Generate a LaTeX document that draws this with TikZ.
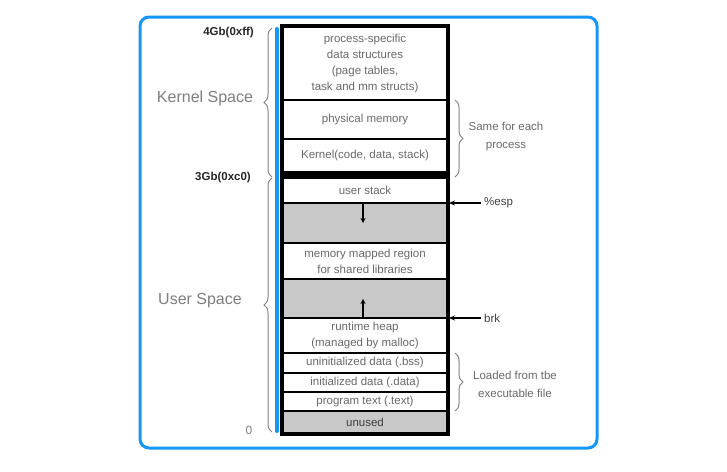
\documentclass[tikz,border=0pt]{standalone}
\usepackage{fontspec}
\setmainfont{Liberation Sans}
\usetikzlibrary{decorations.pathreplacing,arrows.meta}
\definecolor{frameblue}{RGB}{20,150,250}
\definecolor{rowtext}{RGB}{105,105,105}
\definecolor{spacetext}{RGB}{125,125,125}
\definecolor{bracegray}{RGB}{130,130,130}
\definecolor{fillgray}{RGB}{200,200,200}
\tikzset{
  rowbox/.style={draw=black, line width=2.2pt, minimum width=164pt, inner sep=0pt,
    text=rowtext, font=\fontsize{11.5}{16}\selectfont, align=center, fill=white},
  graybox/.style={rowbox, fill=fillgray},
  bandbox/.style={draw=black, fill=black, line width=0pt, minimum width=164pt, inner sep=0pt},
  addr/.style={font=\fontsize{11.5}{12}\selectfont\bfseries, text=black!85, anchor=east, inner sep=0pt},
  spacelbl/.style={font=\fontsize{16}{18}\selectfont, text=spacetext, inner sep=0pt},
  sidelbl/.style={font=\fontsize{11.5}{18}\selectfont, text=rowtext, align=center, inner sep=0pt},
  ptrlbl/.style={font=\fontsize{11.5}{13}\selectfont, text=black!75, anchor=west, inner sep=0pt},
  bracel/.style={decorate, decoration={brace, amplitude=8pt}, draw=bracegray, line width=1pt},
  ptr/.style={-{Stealth[length=6pt,width=5pt]}, line width=1.5pt, draw=black},
  growarrow/.style={-{Stealth[length=5pt,width=5pt]}, line width=1.3pt, draw=black}
}
\begin{document}
\begin{tikzpicture}[x=1pt,y=-1pt]
\useasboundingbox (0,0) rectangle (727,471);
% outer frame
\draw[frameblue, line width=3pt, rounded corners=9pt] (140,17) rectangle (597,448);

% rows
\node[rowbox, minimum height=73pt] (ps) at (365,63.5) {process-specific\\data structures\\(page tables,\\task and mm structs)};
\node[rowbox, minimum height=39pt] (pm) at (365,119.5) {physical memory};
\node[rowbox, minimum height=33pt] (kc) at (365,155.5) {Kernel(code, data, stack)};
\node[bandbox, minimum height=6pt] (band) at (365,175) {};
\node[rowbox, minimum height=25pt] (us) at (365,190.5) {user stack};
\node[graybox, minimum height=40pt] (g1) at (365,223) {};
\node[rowbox, minimum height=36pt] (mm) at (365,261) {memory mapped region\\for shared libraries};
\node[graybox, minimum height=39pt] (g2) at (365,298.5) {};
\node[rowbox, minimum height=35pt] (rh) at (365,335.5) {runtime heap\\(managed by malloc)};
\node[rowbox, minimum height=20pt] (ub) at (365,363) {uninitialized data (.bss)};
\node[rowbox, minimum height=19pt] (id) at (365,382.5) {initialized data (.data)};
\node[rowbox, minimum height=19pt] (pt) at (365,401.5) {program text (.text)};
\node[graybox, minimum height=22pt, text=black!75] (un) at (365,422) {unused};
% outer column border
\draw[line width=3pt] (ps.north west) rectangle (un.south east);

% blue bar
\draw[frameblue, line width=4pt, line cap=round] (276.5,29) -- (276.5,431);

% growth arrows
\coordinate (g1a) at (363,204);
\coordinate (g1b) at (363,223);
\draw[growarrow] (g1a) -- (g1b);
\coordinate (g2a) at (363,318);
\coordinate (g2b) at (363,299);
\draw[growarrow] (g2a) -- (g2b);

% pointers
\coordinate (espS) at (481,203);
\coordinate (espT) at (449,203);
\draw[ptr] (espS) -- (espT);
\node[ptrlbl] (esp) at (484,203) {\%esp};
\coordinate (brkS) at (481,318);
\coordinate (brkT) at (449,318);
\draw[ptr] (brkS) -- (brkT);
\node[ptrlbl] (brk) at (484,318) {brk};

% addresses
\node[addr] (a4) at (254,33) {4Gb(0xff)};
\node[addr] (a3) at (251,178) {3Gb(0xc0)};
\node[font=\fontsize{12}{14}\selectfont, text=spacetext, inner sep=0pt] (a0) at (249,430) {0};

% left braces
\coordinate (kb1) at (272,177);
\coordinate (kb2) at (272,28);
\draw[bracel] (kb1) -- (kb2);
\coordinate (ub1) at (272,432);
\coordinate (ub2) at (272,178);
\draw[bracel] (ub1) -- (ub2);
\node[spacelbl] (ks) at (205,98) {Kernel Space};
\node[spacelbl] (uspace) at (200,301) {User Space};

% right braces
\coordinate (rb1) at (455,100);
\coordinate (rb2) at (455,177);
\draw[bracel] (rb1) -- (rb2);
\node[sidelbl] (same) at (506,137) {Same for each\\process};
\coordinate (lb1) at (455,353);
\coordinate (lb2) at (455,411);
\draw[bracel] (lb1) -- (lb2);
\node[sidelbl] (loaded) at (515,384) {Loaded from tbe\\executable file};
\end{tikzpicture}
\end{document}
